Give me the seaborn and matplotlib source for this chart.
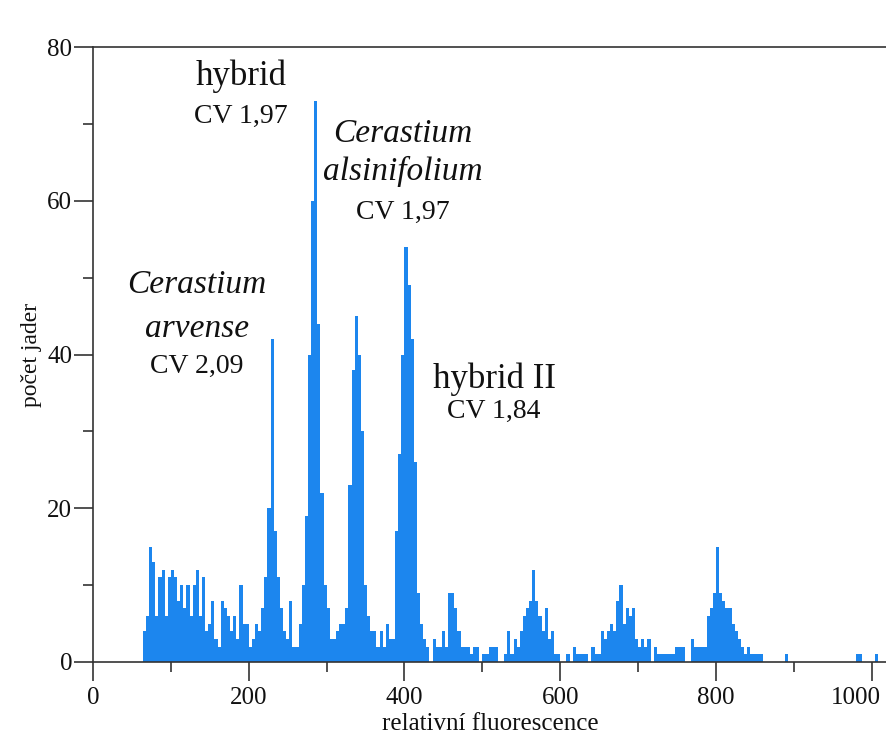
import numpy as np
import pandas as pd
import seaborn as sns
import matplotlib
matplotlib.use("Agg")
import matplotlib.pyplot as plt
from matplotlib.ticker import MultipleLocator
from matplotlib.transforms import ScaledTranslation

# ---- data: histogram counts, bins of width 4 starting at channel 64 ----
bin_width = 4
bin_start = 64
counts_background = [4, 6, 15, 13, 6, 11, 12, 6, 11, 12, 11, 8, 10, 7, 10, 6, 10, 12, 6, 11,
                     4, 5, 8, 3, 2, 8, 7, 6, 4, 6, 3, 10, 5, 5, 2, 3, 5, 4, 7]          # 64-216
counts_arvense_hybrid = [11, 20, 42, 17, 11, 7, 4, 3, 8, 2, 2, 5, 10, 19, 40, 60, 73, 44,
                         22, 10, 7, 3, 3, 4, 5]                                         # 220-316
counts_alsinifolium = [5, 7, 23, 38, 45, 40, 30, 10, 6, 4, 4, 2, 4, 2, 5, 3, 3, 17, 27, 40,
                       54, 49, 42, 26, 9, 5, 3, 2, 0]                                   # 320-432
counts_g2_low = [3, 2, 2, 4, 2, 9, 9, 7, 4, 2, 2, 2, 1, 2, 2, 0, 1, 1, 2, 2,
                 2, 0, 0, 1, 4, 1, 3, 2, 4, 6, 7, 8, 12, 8, 6, 4, 7, 3, 4, 1, 1, 0]     # 436-600
counts_g2_high = [0, 1, 0, 2, 1, 1, 1, 1, 0, 2, 1, 1, 4, 3, 4, 5, 4, 8, 10, 5,
                  7, 6, 7, 3, 2, 3, 2, 3, 0, 2, 1, 1, 1, 1, 1, 1, 2, 2, 2, 0,
                  0, 3, 2, 2, 2, 2, 6, 7, 9, 15, 9, 8, 7, 7, 5, 4, 3, 2, 1, 2,
                  1, 1, 1, 1]                                                           # 604-856
sparse_channels = [888, 981, 987, 1007]
sparse_counts = [1, 1, 1, 1]

x_ticks_major = [0, 200, 400, 600, 800, 1000]
y_ticks_major = [0, 20, 40, 60, 80]

labels = [
    # (lines, x, y_baselines, styles, sizes)
    (["hybrid", "CV 1,97"], 190, [75, 70.1], ["normal", "normal"], [25, 20]),
    (["Cerastium", "alsinifolium", "CV 1,97"], 398, [67.6, 62.7, 57.7], ["italic", "italic", "normal"], [24, 24, 20]),
    (["Cerastium", "arvense", "CV 2,09"], 133, [48, 42.3, 37.6], ["italic", "italic", "normal"], [24, 24, 20]),
    (["hybrid II", "CV 1,84"], 515, [35.7, 31.8], ["normal", "normal"], [25, 20]),
]

dense_counts = (counts_background + counts_arvense_hybrid + counts_alsinifolium
                + counts_g2_low + counts_g2_high)
dense_centers = [bin_start + bin_width * (i + 0.5) for i in range(len(dense_counts))]
df = pd.DataFrame({
    "channel": dense_centers + sparse_channels,
    "count": dense_counts + sparse_counts,
})
edges = [float(e) for e in np.arange(bin_start, 1020 + bin_width, bin_width)]

sns.set_style("white")
plt.rcParams["font.family"] = ["Liberation Serif", "DejaVu Serif"]

fig = plt.figure(figsize=(8.87, 7.44), dpi=100)
ax = fig.add_axes([93 / 887, 1 - 662 / 744, (887 - 93) / 887, (662 - 47) / 744])

sns.histplot(data=df, x="channel", weights="count", bins=edges, element="step",
             fill=True, color="#1c86ee", alpha=1, linewidth=0, ax=ax)

ax.set_xlim(0, 1019.6)
ax.set_ylim(0, 80)
ax.set_xticks(x_ticks_major)
ax.set_yticks(y_ticks_major)
ax.xaxis.set_minor_locator(MultipleLocator(100))
ax.yaxis.set_minor_locator(MultipleLocator(10))
ax.tick_params(axis="both", which="major", direction="out", length=14, width=1.2,
               color="#333333", labelsize=18, labelcolor="#111111")
ax.tick_params(axis="x", which="major", pad=4)
ax.tick_params(axis="y", which="major", pad=1)
ax.tick_params(axis="both", which="minor", direction="out", length=7, width=1.2,
               color="#333333")
ax.tick_params(axis="x", which="both", bottom=True)
ax.tick_params(axis="y", which="both", left=True)

# last x tick label sits left of the figure edge, as in the reference
last = ax.get_xticklabels()[-1]
last.set_horizontalalignment("right")
last.set_transform(last.get_transform() + ScaledTranslation(9 / 100, 0, fig.dpi_scale_trans))

for side in ["left", "bottom", "top"]:
    ax.spines[side].set_visible(True)
    ax.spines[side].set_color("#333333")
    ax.spines[side].set_linewidth(1.2)
ax.spines["right"].set_visible(False)

ax.set_xlabel("relativní fluorescence", fontsize=18, color="#111111", labelpad=3)
ax.set_ylabel("počet jader", fontsize=17, color="#111111", labelpad=4)

for lines, lx, lys, styles, sizes in labels:
    for text, ly, st, sz in zip(lines, lys, styles, sizes):
        ax.text(lx, ly, text, ha="center", va="baseline", fontsize=sz, style=st,
                color="#111111")

fig.savefig("out.png", dpi=100)
